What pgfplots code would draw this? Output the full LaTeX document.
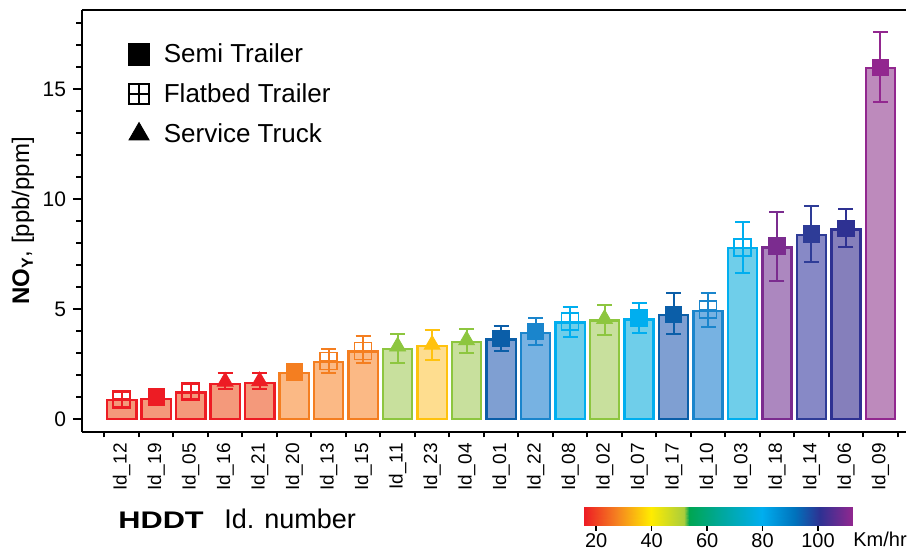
\documentclass[border=0pt]{standalone}
\usepackage{fontspec}
\setmainfont{Liberation Sans}
\newfontfamily\heavyfont{Liberation Sans}[FakeStretch=1.28]
\usepackage{pgfplots}
\pgfplotsset{compat=1.18}

\definecolor{redE}{HTML}{ED1C24}\definecolor{redF}{HTML}{F4997B}
\definecolor{oraE}{HTML}{F47E20}\definecolor{oraF}{HTML}{FBB985}
\definecolor{grnE}{HTML}{8DC63F}\definecolor{grnF}{HTML}{C8E09D}
\definecolor{yelE}{HTML}{FFC20E}\definecolor{yelF}{HTML}{FEDD8F}
\definecolor{dbE}{HTML}{0B5EA8}\definecolor{dbF}{HTML}{7F9FD2}
\definecolor{mbE}{HTML}{1A85CC}\definecolor{mbF}{HTML}{77B2E2}
\definecolor{cyE}{HTML}{00AEEF}\definecolor{cyF}{HTML}{6FCEEA}
\definecolor{paE}{HTML}{7B2C8F}\definecolor{paF}{HTML}{AC87BF}
\definecolor{naE}{HTML}{2E3C97}\definecolor{naF}{HTML}{8789C6}
\definecolor{nbE}{HTML}{2E3192}\definecolor{nbF}{HTML}{857FBB}
\definecolor{pbE}{HTML}{92278F}\definecolor{pbF}{HTML}{BD8ABC}

\pgfdeclareplotmark{boxplus}{%
  \pgfpathrectangle{\pgfpoint{-\pgfplotmarksize}{-\pgfplotmarksize}}{\pgfpoint{2\pgfplotmarksize}{2\pgfplotmarksize}}%
  \pgfpathmoveto{\pgfpoint{-\pgfplotmarksize}{0pt}}\pgfpathlineto{\pgfpoint{\pgfplotmarksize}{0pt}}%
  \pgfpathmoveto{\pgfpoint{0pt}{-\pgfplotmarksize}}\pgfpathlineto{\pgfpoint{0pt}{\pgfplotmarksize}}%
  \pgfusepathqstroke}

\pgfplotsset{
  semi/.style={mark=square*, mark size=4.1pt},
  flat/.style={mark=boxplus, mark size=4.25pt, mark options={line width=0.8pt}},
  serv/.style={mark=triangle*, mark size=4.6pt},
}
\newcommand{\barplot}[2]{\addplot[forget plot, ybar, bar width=0.85, bar shift=0pt, draw=#1E, fill=#1F, line width=1.2pt] coordinates {#2};}
\newcommand{\markplot}[3]{\addplot[forget plot, only marks, #2, color=#1E, error bars/.cd, y dir=both, y explicit, error bar style={line width=1pt, color=#1E, solid}, error mark options={rotate=90, mark size=3.75pt, line width=1pt, color=#1E}] coordinates {#3};}

\begin{document}
\begin{tikzpicture}
\useasboundingbox (-41pt,-58.5pt) rectangle (412.5pt,216pt);
\begin{axis}[
  at={(0pt,0pt)}, anchor=south west,
  scale only axis, width=412.25pt, height=211pt,
  xmin=-1.151, xmax=22.755, ymin=-0.59, ymax=18.59,
  clip=false,
  axis x line*=bottom, axis y line*=left,
  axis line style={line width=1.2pt, -},
  xtick={0,...,22},
  xticklabels={Id\_12,Id\_19,Id\_05,Id\_16,Id\_21,Id\_20,Id\_13,Id\_15,Id\_11,Id\_23,Id\_04,Id\_01,Id\_22,Id\_08,Id\_02,Id\_07,Id\_17,Id\_10,Id\_03,Id\_18,Id\_14,Id\_06,Id\_09},
  minor xtick={-0.5,0.5,...,22.5},
  major x tick style={draw=none},
  ytick={0,5,10,15},
  minor ytick={1,2,3,4,6,7,8,9,11,12,13,14,16,17,18},
  tick align=outside,
  major tick length=4.5pt, minor tick length=2.75pt,
  tick style={line width=1pt, black},
  xticklabel style={rotate=90, anchor=east, font=\fontsize{9.5}{11}\selectfont, inner sep=1pt},
  yticklabel style={font=\fontsize{10.5}{12}\selectfont},
  /pgf/number format/assume math mode=true,
  ylabel={\textbf{NO\textsubscript{Y}}, [ppb/ppm]},
  ylabel style={at={(axis description cs:-0.0716,0.5)}, anchor=center, font=\fontsize{12}{14}\selectfont},
  legend style={at={(axis description cs:0.0556,0.931)}, anchor=north west, draw=none, fill=none, font=\fontsize{13}{15}\selectfont, row sep=5pt, column sep=5pt, inner sep=0pt, nodes={inner sep=2pt}},
  legend cell align=left,
]
\barplot{red}{(0,0.86)}
\markplot{red}{flat}{(0,0.90) += (0,0.33) -= (0,0.35)}
\barplot{red}{(1,0.92)}
\markplot{red}{semi}{(1,1.00) += (0,0.12) -= (0,0.12)}
\barplot{red}{(2,1.20)}
\markplot{red}{flat}{(2,1.24) += (0,0.35) -= (0,0.34)}
\barplot{red}{(3,1.58)}
\markplot{red}{serv}{(3,1.70) += (0,0.38) -= (0,0.34)}
\barplot{red}{(4,1.65)}
\markplot{red}{serv}{(4,1.72) += (0,0.38) -= (0,0.34)}
\barplot{ora}{(5,2.08)}
\markplot{ora}{semi}{(5,2.14) += (0,0.16) -= (0,0.19)}
\barplot{ora}{(6,2.59)}
\markplot{ora}{flat}{(6,2.64) += (0,0.53) -= (0,0.54)}
\barplot{ora}{(7,3.06)}
\markplot{ora}{flat}{(7,3.10) += (0,0.67) -= (0,0.57)}
\barplot{grn}{(8,3.18)}
\markplot{grn}{serv}{(8,3.30) += (0,0.58) -= (0,0.74)}
\barplot{yel}{(9,3.32)}
\markplot{yel}{serv}{(9,3.38) += (0,0.67) -= (0,0.68)}
\barplot{grn}{(10,3.49)}
\markplot{grn}{serv}{(10,3.58) += (0,0.50) -= (0,0.56)}
\barplot{db}{(11,3.62)}
\markplot{db}{semi}{(11,3.67) += (0,0.56) -= (0,0.57)}
\barplot{mb}{(12,3.92)}
\markplot{mb}{semi}{(12,3.97) += (0,0.61) -= (0,0.61)}
\barplot{cy}{(13,4.38)}
\markplot{cy}{flat}{(13,4.42) += (0,0.66) -= (0,0.68)}
\barplot{grn}{(14,4.47)}
\markplot{grn}{serv}{(14,4.55) += (0,0.62) -= (0,0.73)}
\barplot{cy}{(15,4.53)}
\markplot{cy}{semi}{(15,4.60) += (0,0.66) -= (0,0.71)}
\barplot{db}{(16,4.73)}
\markplot{db}{semi}{(16,4.76) += (0,0.95) -= (0,0.91)}
\barplot{mb}{(17,4.91)}
\markplot{mb}{flat}{(17,4.97) += (0,0.74) -= (0,0.77)}
\barplot{cy}{(18,7.76)}
\markplot{cy}{flat}{(18,7.80) += (0,1.17) -= (0,1.15)}
\barplot{pa}{(19,7.79)}
\markplot{pa}{semi}{(19,7.86) += (0,1.55) -= (0,1.59)}
\barplot{na}{(20,8.35)}
\markplot{na}{semi}{(20,8.41) += (0,1.27) -= (0,1.26)}
\barplot{nb}{(21,8.62)}
\markplot{nb}{semi}{(21,8.67) += (0,0.86) -= (0,0.87)}
\barplot{pb}{(22,15.94)}
\markplot{pb}{semi}{(22,15.99) += (0,1.59) -= (0,1.59)}

\addlegendimage{only marks, mark=square*, mark size=5.4pt, black}
\addlegendentry{Semi Trailer}
\addlegendimage{only marks, mark=boxplus, mark size=5pt, mark options={line width=0.8pt}, black}
\addlegendentry{Flatbed Trailer}
\addlegendimage{only marks, mark=triangle*, mark size=5.8pt, black}
\addlegendentry{Service Truck}

\draw[line width=1.2pt] (rel axis cs:0,1) -- (rel axis cs:1,1);
\node[anchor=base west, inner sep=0pt, font=\fontsize{12}{14}\heavyfont\bfseries] at ([xshift=18pt,yshift=-48.5pt]rel axis cs:0,0) {HDDT};
\node[anchor=base west, inner sep=0pt, font=\fontsize{13.5}{15}\selectfont] at ([xshift=71pt,yshift=-48.5pt]rel axis cs:0,0) {Id. number};
\node[anchor=base west, inner sep=0pt, font=\fontsize{10}{12}\selectfont] at ([xshift=385.5pt,yshift=-57.5pt]rel axis cs:0,0) {Km/hr};
\end{axis}

\begin{axis}[
  at={(251pt,-37.5pt)}, anchor=north west,
  scale only axis, width=134.5pt, height=9.5pt,
  xmin=15.6, xmax=112.6, ymin=0, ymax=1,
  axis x line*=bottom, axis y line=none,
  x axis line style={draw=none},
  xtick={20,40,60,80,100}, ytick=\empty,
  tick align=outside, major tick length=2.5pt,
  xtick style={black, line width=0.8pt},
  xticklabel style={font=\fontsize{10}{12}\selectfont, inner sep=1pt},
  /pgf/number format/assume math mode=true,
  colormap={speed}{rgb255(16pt)=(237,28,36); rgb255(28pt)=(245,130,32); rgb255(40pt)=(255,236,0); rgb255(52pt)=(170,205,60); rgb255(54pt)=(0,166,81); rgb255(66pt)=(0,168,160); rgb255(80pt)=(0,174,239); rgb255(92pt)=(0,114,188); rgb255(101pt)=(46,49,146); rgb255(113pt)=(146,39,143)},
  point meta min=15.6, point meta max=112.6,
]
\addplot[surf, shader=interp, point meta=x] coordinates {
(15.6,0) (28,0) (40,0) (52,0) (53.6,0) (66,0) (80,0) (92,0) (101,0) (112.6,0)

(15.6,1) (28,1) (40,1) (52,1) (53.6,1) (66,1) (80,1) (92,1) (101,1) (112.6,1)
};
\end{axis}
\end{tikzpicture}
\end{document}
